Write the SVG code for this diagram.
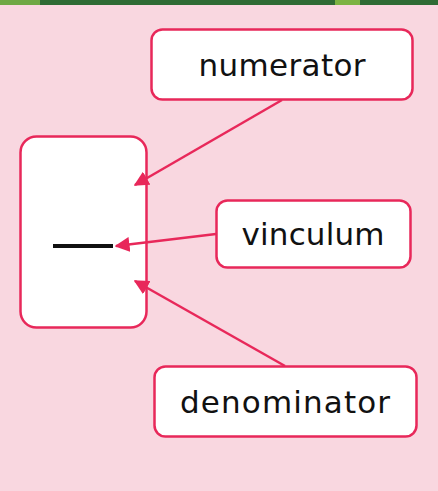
<svg xmlns="http://www.w3.org/2000/svg" width="438" height="491" viewBox="0 0 438 491">
<defs>
<style>
.box{fill:#fff;stroke:#e8285a;stroke-width:2.5}
.lbl{font-family:"DejaVu Sans",sans-serif;font-size:31px;fill:#111;text-anchor:middle}
.con{stroke:#e8285a;stroke-width:2.5;fill:none;marker-end:url(#ah)}
</style>
<marker id="ah" viewBox="0 0 10 10" refX="9" refY="5" markerWidth="6" markerHeight="6" orient="auto" markerUnits="strokeWidth">
<path d="M0,0 L10,5 L0,10 z" fill="#e8285a"/>
</marker>
</defs>
<rect width="438" height="491" fill="#f9d7e0"/>
<rect width="438" height="5" fill="#2f6b34"/>
<rect x="0" y="0" width="40" height="5" fill="#6fa844"/>
<rect x="335" y="0" width="25" height="5" fill="#7cb342"/>
<g id="fraction">
<rect class="box" x="20.5" y="136.5" width="126" height="191" rx="16"/>
<rect x="53" y="244" width="60" height="4" fill="#111"/>
</g>
<g id="numerator">
<rect class="box" x="151.5" y="29.5" width="261" height="70" rx="11"/>
<text class="lbl" x="282" y="76" textLength="167">numerator</text>
</g>
<g id="vinculum">
<rect class="box" x="216.5" y="200.5" width="194" height="67" rx="11"/>
<text class="lbl" x="313" y="245" textLength="143">vinculum</text>
</g>
<g id="denominator">
<rect class="box" x="154.5" y="366.5" width="262" height="70" rx="11"/>
<text class="lbl" x="285" y="413" textLength="210">denominator</text>
</g>
<g id="connectors">
<line class="con" x1="282" y1="100" x2="135" y2="185"/>
<line class="con" x1="216" y1="234" x2="116" y2="246"/>
<line class="con" x1="285" y1="366" x2="135" y2="281"/>
</g>
</svg>
